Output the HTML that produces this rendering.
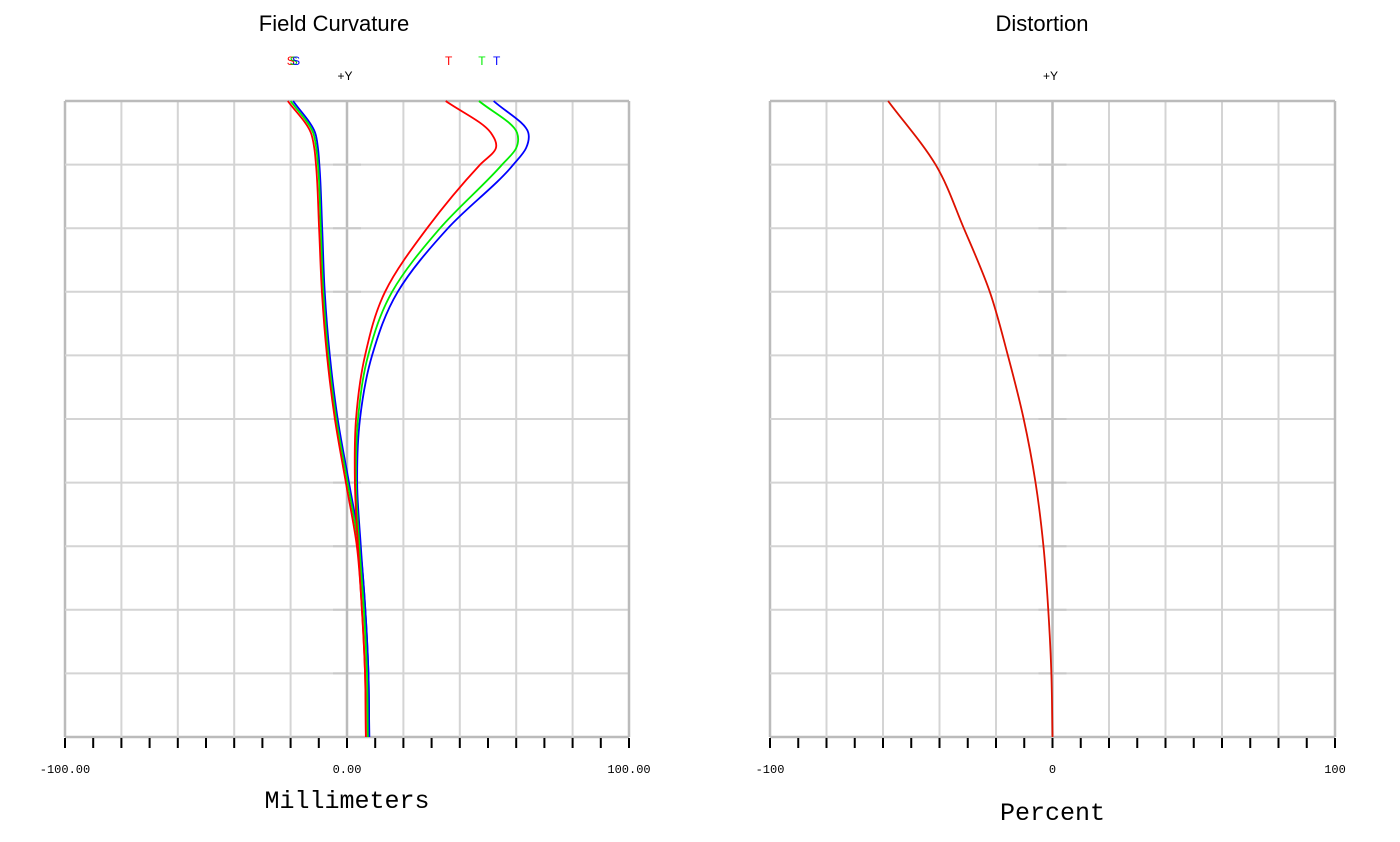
<!DOCTYPE html>
<html><head><meta charset="utf-8"><style>
html,body{margin:0;padding:0;background:#fff;width:1400px;height:842px;overflow:hidden}
svg text{font-family:"Liberation Sans",sans-serif}
.mono{font-family:"Liberation Mono",monospace}
</style></head><body>
<svg id="svg" width="1400" height="842" xmlns="http://www.w3.org/2000/svg">
<text x="334" y="31" font-size="22" text-anchor="middle">Field Curvature</text>
<text x="1042" y="31" font-size="22" text-anchor="middle">Distortion</text>
<g id="left"></g>
<g id="right"></g>
</svg>
<script>
const fracs=[0,0.1,0.2,0.3,0.4,0.5,0.6,0.7,0.8,0.9,0.926,0.95,1.0];
const sRed  =[6.7,6.4,5.3,3.5,-0.4,-4.3,-7.1,-8.9,-9.9,-11,-11.6,-12.8,-21];
const sGreen=[7.4,7.1,6.0,4.1,0.2,-3.8,-6.6,-8.4,-9.3,-10.3,-10.9,-12.0,-20];
const sBlue =[7.9,7.6,6.5,4.6,0.7,-3.3,-6.1,-7.9,-8.8,-9.8,-10.3,-11.3,-19.1];
const tRed  =[6.7,6.4,5.3,3.9,2.8,3.2,6.4,13.5,28.4,47.2,52.8,51,35];
const tGreen=[7.4,7.1,6.0,4.4,3.2,3.9,7.5,16,33,55,60,60.3,46.8];
const tBlue =[7.9,7.6,6.5,4.9,3.6,4.6,8.9,18,35.8,59,63.5,64.3,52];
const distFracs=[0,0.1,0.2,0.3,0.4,0.5,0.6,0.7,0.8,0.9,1.0];
const distVals=[0,-0.4,-1.5,-3.2,-6.0,-10.2,-15.8,-22.2,-31.4,-41.4,-58.2];
const leftTicks=["-100.00","0.00","100.00"];
const rightTicks=["-100","0","100"];
const NS="http://www.w3.org/2000/svg";
const TOP=101,BOT=737;
function el(p,t,a){const e=document.createElementNS(NS,t);for(const k in a)e.setAttribute(k,a[k]);p.appendChild(e);return e;}
function yS(f){return BOT-f*(BOT-TOP);}
function makeX(x0,x1){return v=>x0+(v+100)/200*(x1-x0);}
function drawFrame(g,x0,x1,ticks,title,titleY){
  const X=makeX(x0,x1);
  for(let i=0;i<=10;i++){
    const x=X(-100+20*i);
    const l=el(g,'line',{x1:x,y1:TOP,x2:x,y2:BOT,stroke:(i==0||i==10||i==5)?'#bbb':'#d4d4d4','stroke-width':(i==0||i==10||i==5)?2.5:2});
    
    
    const y=yS(i/10);
    const h=el(g,'line',{x1:x0,y1:y,x2:x1,y2:y,stroke:(i==0||i==10)?'#bbb':'#d4d4d4','stroke-width':(i==0||i==10)?2.5:2});
    
    
    if(i>0&&i<10){const m=el(g,'line',{x1:X(0)-14,y1:y,x2:X(0)+14,y2:y,stroke:'#c8c8c8','stroke-width':2});
    
    }
  }
  for(let i=0;i<=20;i++){
    const x=X(-100+10*i);
    const t=el(g,'line',{x1:x,y1:BOT+1,x2:x,y2:BOT+11,stroke:'#000','stroke-width':2});
    
    
  }
  [-100,0,100].forEach((v,i)=>{
    const t=el(g,'text',{x:X(v),y:773,'font-size':12,'text-anchor':'middle',class:'mono'});
    t.textContent=ticks[i];
    
    
  });
  const tt=el(g,'text',{x:X(0),y:titleY,'font-size':25,'text-anchor':'middle',class:'mono'});
  tt.textContent=title;
  
  
  const py=el(g,'text',{x:X(0)-2,y:80,'font-size':12,'text-anchor':'middle'});
  py.textContent='+Y';
  
  
  return X;
}
function curve(g,X,fs,vals,color,name){
  const n=fs.length,m=[];
  for(let i=0;i<n;i++){
    if(i==0)m.push((vals[1]-vals[0])/(fs[1]-fs[0]));
    else if(i==n-1)m.push((vals[n-1]-vals[n-2])/(fs[n-1]-fs[n-2]));
    else{const h0=fs[i]-fs[i-1],h1=fs[i+1]-fs[i];
      const d0=(vals[i]-vals[i-1])/h0,d1=(vals[i+1]-vals[i])/h1;
      m.push((d0*h1+d1*h0)/(h0+h1));}
  }
  let d='M'+X(vals[0])+','+yS(fs[0]);
  for(let i=0;i<n-1;i++){
    const h=fs[i+1]-fs[i];
    const c1f=fs[i]+h/3,c1v=vals[i]+m[i]*h/3;
    const c2f=fs[i+1]-h/3,c2v=vals[i+1]-m[i+1]*h/3;
    d+=' C'+X(c1v)+','+yS(c1f)+' '+X(c2v)+','+yS(c2f)+' '+X(vals[i+1])+','+yS(fs[i+1]);
  }
  const p=el(g,'path',{d:d,fill:'none',stroke:color,'stroke-width':1.8});
  
  
}
const L=document.getElementById('left'),R=document.getElementById('right');
const XL=drawFrame(L,65,629,leftTicks,'Millimeters',808);
const XR=drawFrame(R,770,1335,rightTicks,'Percent',820);
curve(L,XL,fracs,sBlue,'#0000ff','sagittal-blue');
curve(L,XL,fracs,sGreen,'#00ee00','sagittal-green');
curve(L,XL,fracs,sRed,'#ff0000','sagittal-red');
curve(L,XL,fracs,tBlue,'#0000ff','tangential-blue');
curve(L,XL,fracs,tGreen,'#00ee00','tangential-green');
curve(L,XL,fracs,tRed,'#ff0000','tangential-red');
curve(R,XR,distFracs,distVals,'#dd1100','distortion-curve');
const labs=[['S',sRed[12],'#ff0000'],['S',sGreen[12],'#00cc00'],['S',sBlue[12],'#0000ff'],['T',tRed[12],'#ff0000'],['T',tGreen[12],'#00ee00'],['T',tBlue[12],'#0000ff']];
labs.forEach(a=>{
  const t=el(L,'text',{x:XL(a[1])+3,y:65,'font-size':12,fill:a[2],'text-anchor':'middle'});
  t.textContent=a[0];
  
  
});
</script>
</body></html>
